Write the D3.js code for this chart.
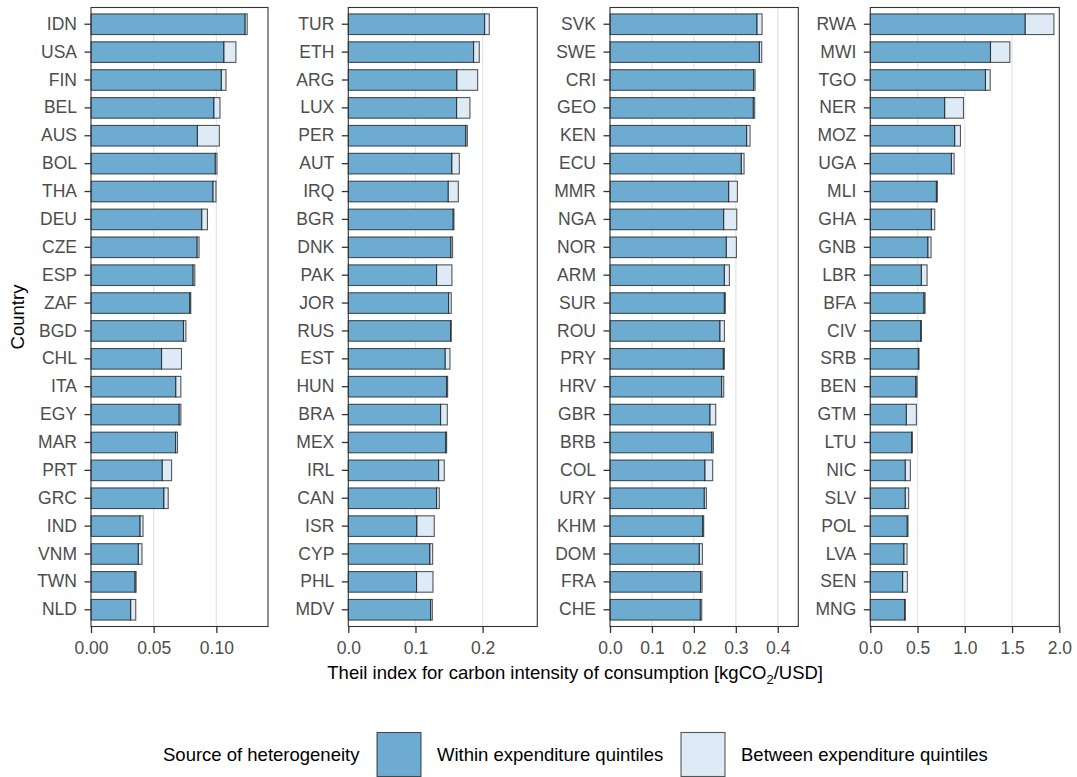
<!DOCTYPE html>
<html>
<head>
<meta charset="utf-8">
<script src="https://cdn.jsdelivr.net/npm/d3@7"></script>
<style>
  html, body { margin: 0; padding: 0; background: #fff; }
  svg { display: block; font-family: "Liberation Sans", Arial, sans-serif; }
</style>
</head>
<body>
<svg id="chart" width="1077" height="777"></svg>
<script>
// Theil index of carbon intensity, decomposed into within- and between-quintile parts.
// Countries are split across four panels, each sorted by total index.
const countriesA = ["IDN","USA","FIN","BEL","AUS","BOL","THA","DEU","CZE","ESP","ZAF","BGD","CHL","ITA","EGY","MAR","PRT","GRC","IND","VNM","TWN","NLD"];
const withinA  = [0.1230,0.1061,0.1040,0.0981,0.0849,0.0992,0.0974,0.0884,0.0847,0.0815,0.0788,0.0738,0.0563,0.0677,0.0704,0.0675,0.0569,0.0582,0.0392,0.0378,0.0352,0.0317];
const betweenA = [0.0016,0.0095,0.0037,0.0048,0.0175,0.0013,0.0023,0.0045,0.0015,0.0013,0.0008,0.0019,0.0159,0.0040,0.0013,0.0015,0.0074,0.0034,0.0023,0.0029,0.0008,0.0040];

const countriesB = ["TUR","ETH","ARG","LUX","PER","AUT","IRQ","BGR","DNK","PAK","JOR","RUS","EST","HUN","BRA","MEX","IRL","CAN","ISR","CYP","PHL","MDV"];
const withinB  = [0.2030,0.1866,0.1618,0.1613,0.1752,0.1543,0.1489,0.1563,0.1529,0.1315,0.1494,0.1524,0.1444,0.1464,0.1375,0.1454,0.1345,0.1315,0.1022,0.1216,0.1017,0.1226];
const betweenB = [0.0069,0.0084,0.0308,0.0198,0.0020,0.0110,0.0149,0.0010,0.0024,0.0228,0.0039,0.0009,0.0070,0.0015,0.0099,0.0010,0.0084,0.0040,0.0258,0.0040,0.0244,0.0025];

const countriesC = ["SVK","SWE","CRI","GEO","KEN","ECU","MMR","NGA","NOR","ARM","SUR","ROU","PRY","HRV","GBR","BRB","COL","URY","KHM","DOM","FRA","CHE"];
const withinC  = [0.3507,0.3563,0.3427,0.3419,0.3260,0.3133,0.2831,0.2712,0.2775,0.2728,0.2728,0.2624,0.2704,0.2664,0.2386,0.2433,0.2266,0.2250,0.2211,0.2131,0.2163,0.2155];
const betweenC = [0.0119,0.0055,0.0032,0.0032,0.0080,0.0064,0.0207,0.0310,0.0239,0.0119,0.0023,0.0104,0.0024,0.0048,0.0135,0.0032,0.0183,0.0048,0.0024,0.0072,0.0032,0.0032];

const countriesD = ["RWA","MWI","TGO","NER","MOZ","UGA","MLI","GHA","GNB","LBR","BFA","CIV","SRB","BEN","GTM","LTU","NIC","SLV","POL","LVA","SEN","MNG"];
const withinD  = [1.640,1.272,1.219,0.788,0.894,0.859,0.700,0.647,0.611,0.541,0.569,0.534,0.509,0.484,0.382,0.438,0.371,0.371,0.392,0.357,0.343,0.364];
const betweenD = [0.303,0.205,0.050,0.198,0.060,0.028,0.010,0.035,0.032,0.060,0.011,0.007,0.007,0.011,0.106,0.007,0.053,0.035,0.007,0.032,0.049,0.007];

// Axis extents and tick values per panel
const xMax   = [0.1412, 0.2814, 0.449, 2.0];
const xTicks = [[0, 0.05, 0.10], [0, 0.1, 0.2], [0, 0.1, 0.2, 0.3, 0.4], [0, 0.5, 1.0, 1.5, 2.0]];
const xFormats = [".2f", ".1f", ".1f", ".1f"];

const sourceLabels = ["Within expenditure quintiles", "Between expenditure quintiles"];
const legendTitle = "Source of heterogeneity";
const xTitle = "Theil index for carbon intensity of consumption [kgCO";
const yTitle = "Country";

const panels = [
  { countries: countriesA, within: withinA, between: betweenA },
  { countries: countriesB, within: withinB, between: betweenB },
  { countries: countriesC, within: withinC, between: betweenC },
  { countries: countriesD, within: withinD, between: betweenD }
];

// Layout
const panelLeft  = [91, 348.3, 610, 870.3];
const panelRight = [268, 537.3, 798.3, 1059.3];
const plotTop = 7.5, plotBottom = 626.5;
const colWithin = "#6eabd1", colBetween = "#deeaf5";
const barStroke = "rgba(0,0,0,0.65)";
const textGrey = "#4d4d4d", axisGrey = "#333333";
const tickFont = 17.5, titleFont = 18.5;

const svg = d3.select("#chart");

panels.forEach((p, i) => {
  const x = d3.scaleLinear().domain([0, xMax[i]]).range([panelLeft[i], panelRight[i]]);
  const y = d3.scaleBand().domain(p.countries).range([plotTop, plotBottom])
    .paddingInner(0.26).paddingOuter(0.23);

  const g = svg.append("g");

  // vertical grid lines
  g.selectAll("line.grid").data(xTicks[i].filter(t => t > 0 && x(t) < panelRight[i] - 1))
    .join("line").attr("class", "grid")
    .attr("x1", d => x(d)).attr("x2", d => x(d))
    .attr("y1", plotTop).attr("y2", plotBottom)
    .attr("stroke", "#e6e6e6").attr("stroke-width", 1.3);

  const rows = p.countries.map((c, k) => ({ c, w: p.within[k], b: p.between[k] }));

  // within-quintile part
  g.selectAll("rect.within").data(rows).join("rect").attr("class", "within")
    .attr("x", x(0)).attr("y", d => y(d.c))
    .attr("width", d => x(d.w) - x(0)).attr("height", y.bandwidth())
    .attr("fill", colWithin).attr("stroke", barStroke).attr("stroke-width", 1.1);

  // between-quintile part stacked on top
  g.selectAll("rect.between").data(rows).join("rect").attr("class", "between")
    .attr("x", d => x(d.w)).attr("y", d => y(d.c))
    .attr("width", d => x(d.w + d.b) - x(d.w)).attr("height", y.bandwidth())
    .attr("fill", colBetween).attr("stroke", barStroke).attr("stroke-width", 1.1);

  // panel frame
  g.append("rect")
    .attr("x", panelLeft[i]).attr("y", plotTop)
    .attr("width", panelRight[i] - panelLeft[i]).attr("height", plotBottom - plotTop)
    .attr("fill", "none").attr("stroke", axisGrey).attr("stroke-width", 1.1);

  // x axis
  const xAxis = g.append("g").attr("transform", `translate(0,${plotBottom})`)
    .call(d3.axisBottom(x).tickValues(xTicks[i]).tickFormat(d3.format(xFormats[i]))
      .tickSize(6.5).tickPadding(8.5));
  xAxis.select(".domain").remove();
  xAxis.selectAll(".tick line").attr("stroke", axisGrey).attr("stroke-width", 1.3);
  xAxis.selectAll(".tick text").attr("fill", textGrey).attr("font-size", tickFont)
    .attr("font-family", "Liberation Sans, Arial, sans-serif");

  // y axis
  const yAxis = g.append("g").attr("transform", `translate(${panelLeft[i]},0)`)
    .call(d3.axisLeft(y).tickSize(6.5).tickPadding(7.5));
  yAxis.select(".domain").remove();
  yAxis.selectAll(".tick line").attr("stroke", axisGrey).attr("stroke-width", 1.3);
  yAxis.selectAll(".tick text").attr("fill", textGrey).attr("font-size", tickFont)
    .attr("font-family", "Liberation Sans, Arial, sans-serif");
});

// axis titles
svg.append("text")
  .attr("transform", `translate(24,${(plotTop + plotBottom) / 2}) rotate(-90)`)
  .attr("text-anchor", "middle").attr("font-size", titleFont).attr("fill", "#000")
  .text(yTitle);

const xt = svg.append("text")
  .attr("x", (panelLeft[0] + panelRight[3]) / 2).attr("y", 679)
  .attr("text-anchor", "middle").attr("font-size", titleFont).attr("fill", "#000");
xt.append("tspan").text(xTitle);
xt.append("tspan").attr("font-size", 13).attr("dy", 4.5).text("2");
xt.append("tspan").attr("dy", -4.5).text("/USD]");

// legend along the bottom edge
const legendY = 754.5;
const keySize = 44;
const lg = svg.append("g");
lg.append("text").attr("x", 163).attr("y", legendY + 6.5).attr("font-size", titleFont).text(legendTitle);
const keyX = [377, 681];
const keyCols = [colWithin, colBetween];
keyX.forEach((kx, k) => {
  lg.append("rect").attr("x", kx).attr("y", legendY - keySize / 2).attr("width", keySize).attr("height", keySize)
    .attr("fill", keyCols[k]).attr("stroke", barStroke).attr("stroke-width", 1.1);
  lg.append("text").attr("x", kx + keySize + 16).attr("y", legendY + 6.5).attr("font-size", titleFont)
    .text(sourceLabels[k]);
});
</script>
</body>
</html>
